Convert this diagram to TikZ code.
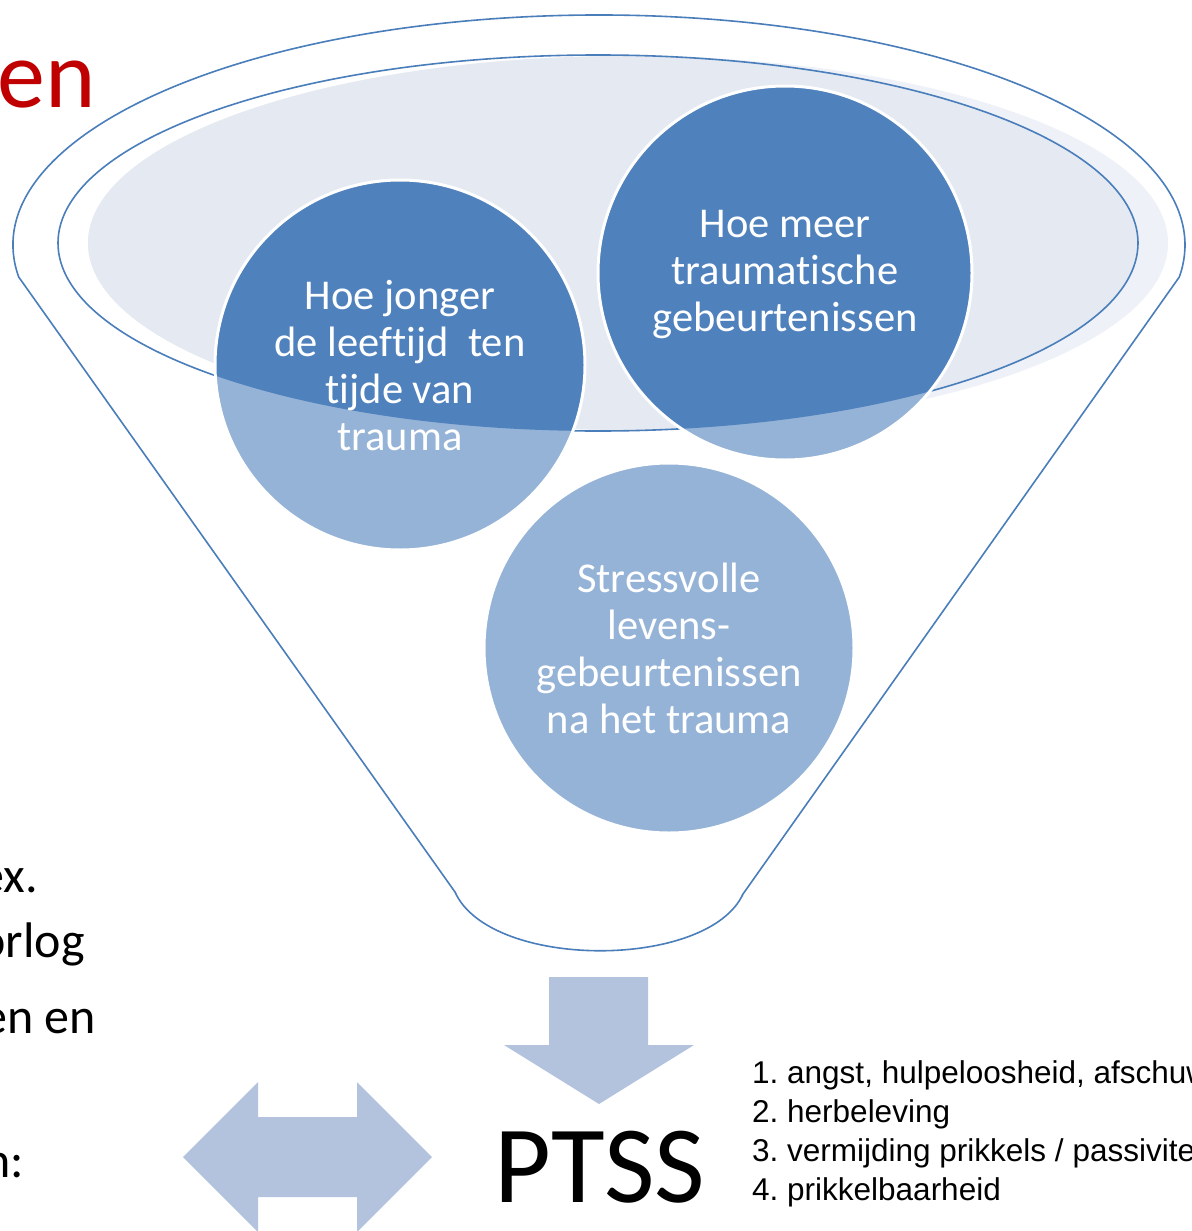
\documentclass[tikz,border=0pt]{standalone}
\usepackage{fontspec}
\setmainfont{Carlito}[Ligatures=NoCommon]
\newfontfamily\listfont{Liberation Sans}
\definecolor{funnelline}{HTML}{4A7EBB}
\definecolor{darkblue}{HTML}{4F81BD}
\definecolor{lightblue}{HTML}{95B3D7}
\definecolor{rimfill}{HTML}{EEF1F7}
\definecolor{rimdark}{HTML}{E4E9F2}
\definecolor{arrowblue}{HTML}{B3C3DE}
\definecolor{titlered}{HTML}{C00000}
\frenchspacing

\begin{document}
\begin{tikzpicture}[x=1pt,y=-1pt,
    funnel/.style={draw=funnelline,line width=1.6pt},
    bubbletext/.style={text=white,align=center,inner sep=0pt,font=\fontsize{42.5}{47}\selectfont},
    bodytext/.style={anchor=base east,inner sep=0pt,font=\fontsize{50}{60}\selectfont},
    criterion/.style={anchor=base west,inner sep=0pt,font=\listfont\fontsize{31.5}{39}\selectfont}]
                      \useasboundingbox (0,0) rectangle (1191,1231);
                      \fill[white] (0,0) rectangle (1191,1231);
                      \node[anchor=base east,inner sep=0pt,text=titlered,font=\fontsize{96}{100}\selectfont] (title) at (96,107) {en};
                      \node[bodytext] (bodya) at (38,892) {ex.};
                      \node[bodytext] (bodyb) at (85,957) {orlog};
                      \node[bodytext] (bodyc) at (96,1033) {en en};
                      \node[bodytext] (bodyd) at (24,1177) {n:};
                      \draw[funnel] (455,892) -- (18.7,277) arc[start angle=172,end angle=368,x radius=586,y radius=230] -- (743,894) .. controls (708,970) and (490,970) .. cycle;
                      \fill[rimfill] (628,243) ellipse[x radius=540,y radius=187];
                      \begin{scope}
                        \clip (598,243) ellipse[x radius=540,y radius=188];
                        \fill[rimdark] (628,243) ellipse[x radius=540,y radius=187];
                      \end{scope}
                      \draw[funnel] (598,243) ellipse[x radius=540,y radius=188];
                      \foreach \cx/\cy/\r in {400/365/185,785/273/187,669/648/185}
                        \fill[lightblue] (\cx,\cy) circle[radius=\r];
                      \begin{scope}
                        \clip (598,243) ellipse[x radius=540,y radius=188];
                        \foreach \cx/\cy/\r in {400/365/185,785/273/187,669/648/185}
                          \fill[darkblue] (\cx,\cy) circle[radius=\r];
                      \end{scope}
                      \foreach \cx/\cy/\r in {400/365/185,785/273/187,669/648/185}
                        \draw[white,line width=3pt] (\cx,\cy) circle[radius=\r];
                      \node[bubbletext] (younger) at (400,366) {Hoe jonger\\de leeftijd~ ten\\tijde van\\trauma};
                      \node[bubbletext] (more) at (785,275) {Hoe meer\\traumatische\\gebeurtenissen};
                      \node[bubbletext] (stress) at (669,648) {Stressvolle\\levens-\\gebeurtenissen\\na het trauma};
                      \fill[arrowblue] (549,977) -- (648,977) -- (648,1045) -- (694,1045) -- (599,1104) -- (504,1045) -- (549,1045) -- cycle;
                      \fill[arrowblue] (183,1157) -- (258,1082) -- (258,1117) -- (357,1117) -- (357,1082) -- (432,1157) -- (357,1232) -- (357,1197) -- (258,1197) -- (258,1232) -- cycle;
                      \node[anchor=base,inner sep=0pt,font=\fontsize{110}{112}\selectfont] (ptss) at (600,1202) {PTSS};
                      \foreach \i/\txt in {0/{1. angst, hulpeloosheid, afschuw},1/{2. herbeleving},2/{3. vermijding prikkels / passiviteit},3/{4. prikkelbaarheid}}
                        \node[criterion] (crit\i) at (752,1083+39*\i) {\txt};
                  \end{tikzpicture}
\end{document}
